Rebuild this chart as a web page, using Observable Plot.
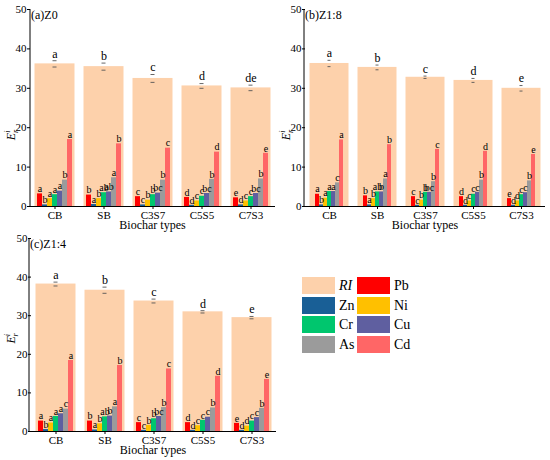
<!DOCTYPE html>
<html><head><meta charset="utf-8">
<script src="https://cdn.jsdelivr.net/npm/d3@7"></script>
<script src="https://cdn.jsdelivr.net/npm/@observablehq/plot@0.6"></script>
<style>
body{margin:0;background:#fff;font-family:"Liberation Serif","DejaVu Serif",serif;color:#000;}
#wrap{position:relative;width:550px;height:460px;overflow:hidden;}
.panel{position:absolute;}
.panel svg, .panel svg text{font-family:"Liberation Serif","DejaVu Serif",serif !important;}
.lg{position:absolute;font-size:14px;line-height:17px;}
.sw{position:absolute;width:33px;height:17px;}
</style></head><body><div id="wrap"></div>
<script>
const categories = ["CB","SB","C3S7","C5S5","C7S3"];
const metals = ["Pb","Zn","Ni","Cr","Cu","As","Cd"];
const metalColors = ["#FF0000","#195F96","#FFC000","#00C66E","#5F5FA0","#9B9B9B","#FF6666"];
const riColor = "#FDD1AB";
const yTicks = [0,10,20,30,40,50];

// (a) Z0
const riZ0 = [36.2,35.5,32.5,30.6,30.1];
const riErrZ0 = [0.8,0.9,1.0,0.6,0.7];
const riLetZ0 = ["a","b","c","d","de"];
const metZ0 = [
  [3.2,0.4,2.0,3.0,3.9,6.7,17.0],
  [2.9,0.5,2.0,3.5,3.7,7.3,15.9],
  [2.5,0.4,1.6,3.0,3.4,6.7,14.8],
  [2.3,0.3,1.4,2.6,3.3,6.9,13.8],
  [2.2,0.4,1.4,2.5,3.3,7.0,13.5]];
const metLetZ0 = [
  ["a","b","a","a","a","b","a"],
  ["b","a","b","ab","ab","a","b"],
  ["c","c","b","b","bc","b","c"],
  ["d","d","c","c","bc","b","d"],
  ["e","d","c","c","bc","b","e"]];

// (b) Z1:8
const riZ18 = [36.3,35.3,32.8,32.0,30.0];
const riErrZ18 = [0.8,0.6,0.3,0.5,0.7];
const riLetZ18 = ["a","b","c","d","e"];
const metZ18 = [
  [3.1,0.4,2.1,3.8,3.8,6.0,16.9],
  [2.7,0.4,2.0,3.7,3.7,7.0,15.7],
  [2.5,0.3,1.6,3.6,3.6,6.3,14.5],
  [2.5,0.3,1.4,3.1,3.6,6.7,14.0],
  [2.0,0.3,1.4,3.0,3.5,6.5,13.2]];
const metLetZ18 = [
  ["a","b","a","a","a","c","a"],
  ["b","a","b","ab","b","a","b"],
  ["c","c","b","b","bc","b","c"],
  ["d","d","c","c","c","b","d"],
  ["e","d","d","c","c","b","e"]];

// (c) Z1:4
const riZ14 = [38.2,36.6,33.8,31.0,29.5];
const riErrZ14 = [0.5,0.8,0.5,0.3,0.3];
const riLetZ14 = ["a","b","c","d","e"];
const metZ14 = [
  [2.7,0.5,2.2,3.9,4.6,5.8,18.4],
  [2.7,0.4,2.0,3.8,4.0,6.4,17.1],
  [2.3,0.3,1.6,3.3,3.9,6.2,16.2],
  [2.3,0.3,1.5,2.9,3.7,6.1,14.3],
  [2.1,0.3,1.4,2.7,3.6,6.0,13.5]];
const metLetZ14 = [
  ["a","b","a","a","a","c","a"],
  ["b","a","b","ab","b","a","b"],
  ["c","c","b","b","bc","b","c"],
  ["d","d","c","c","c","b","d"],
  ["e","d","d","c","c","b","e"]];

const wrap = document.getElementById("wrap");
const FONT = "Liberation Serif, DejaVu Serif, serif";

function panel(cfg) {
  const riData = categories.map((c, i) => ({cat: c, ri: cfg.ri[i], lo: cfg.ri[i] - cfg.err[i], hi: cfg.ri[i] + cfg.err[i], letter: cfg.riLet[i]}));
  const mData = categories.flatMap((c, i) => metals.map((m, j) => ({cat: c, metal: m, v: cfg.met[i][j], letter: cfg.metLet[i][j]})));
  const mt = 9, mb = cfg.mb, ml = cfg.ml, mr = 1;
  const svg = Plot.plot({
    width: cfg.width, height: cfg.height,
    marginTop: mt, marginBottom: mb, marginLeft: ml, marginRight: mr,
    style: {fontFamily: FONT, fontSize: "11px", background: "transparent", overflow: "visible", color: "#000"},
    fx: {domain: categories, padding: 0, label: null},
    x: {domain: metals, padding: 0, insetLeft: 7, insetRight: 7, axis: null},
    y: {domain: [0, 50], label: null},
    color: {domain: metals, range: metalColors},
    marks: [
      Plot.barY(riData, {fx: "cat", y: "ri", fill: riColor, insetLeft: 4.5, insetRight: 4.5}),
      Plot.ruleX(riData, {fx: "cat", y1: "lo", y2: "hi", stroke: "#555", strokeWidth: 0.9}),
      Plot.tickY(riData, {fx: "cat", y: "lo", stroke: "#555", strokeWidth: 0.9, insetLeft: 22.5, insetRight: 22.5}),
      Plot.tickY(riData, {fx: "cat", y: "hi", stroke: "#555", strokeWidth: 0.9, insetLeft: 22.5, insetRight: 22.5}),
      Plot.text(riData, {fx: "cat", y: "hi", text: "letter", dy: -7, fontSize: 12}),
      Plot.barY(mData, {fx: "cat", x: "metal", y: "v", fill: "metal"}),
      Plot.text(mData, {fx: "cat", x: "metal", y: "v", text: "letter", dy: -5, fontSize: 10}),
      Plot.ruleY([0], {stroke: "#000"}),
      Plot.axisY({ticks: yTicks, tickSize: 3, tickPadding: 1, tickFormat: d => d, label: null, fontSize: 11}),
      Plot.axisFx({anchor: "bottom", tickSize: 3, tickPadding: 2, label: null, fontSize: 11})
    ]
  });
  const s = d3.select(svg);
  const y = svg.scale("y");
  const y0 = y.apply(0), y50 = y.apply(50);
  s.append("line").attr("x1", ml).attr("x2", ml).attr("y1", y50).attr("y2", y0).attr("stroke", "#000");
  s.append("text").attr("x", ml + 1).attr("y", y50 + 10).attr("text-anchor", "start").attr("font-size", 12).attr("fill", "#000").text(cfg.title);
  s.append("text").attr("x", (ml + cfg.width - mr) / 2).attr("y", y0 + 23).attr("text-anchor", "middle").attr("font-size", 12).attr("fill", "#000").text("Biochar types");
  const lab = s.append("text").attr("transform", `translate(15,${y.apply(cfg.labelAt)}) rotate(-90)`).attr("text-anchor", "middle").attr("font-size", 12).attr("fill", "#000");
  lab.append("tspan").attr("font-style", "italic").text("E");
  lab.append("tspan").attr("font-style", "italic").attr("font-size", 8).attr("dy", -5).text("i");
  lab.append("tspan").attr("font-style", "italic").attr("font-size", 8).attr("dx", -2.5).attr("dy", 8).text("r");
  const div = document.createElement("div");
  div.className = "panel";
  div.style.left = cfg.left + "px";
  div.style.top = cfg.top + "px";
  div.appendChild(svg);
  wrap.appendChild(div);
}

panel({ri: riZ0, err: riErrZ0, riLet: riLetZ0, met: metZ0, metLet: metLetZ0, title: "(a)Z0",
  left: 0, top: 0, width: 276, height: 236, ml: 30, mb: 30, labelAt: 18});
panel({ri: riZ18, err: riErrZ18, riLet: riLetZ18, met: metZ18, metLet: metLetZ18, title: "(b)Z1:8",
  left: 275, top: 0, width: 272, height: 236, ml: 29, mb: 30, labelAt: 18});
panel({ri: riZ14, err: riErrZ14, riLet: riLetZ14, met: metZ14, metLet: metLetZ14, title: "(c)Z1:4",
  left: 0, top: 229, width: 278, height: 231, ml: 29, mb: 29, labelAt: 24});

// legend
const legendNames = ["RI", ...metals];
const legendColors = [riColor, ...metalColors];
legendNames.forEach((n, k) => {
  const col = k % 2, row = Math.floor(k / 2);
  const sw = document.createElement("div");
  sw.className = "sw";
  sw.style.left = (302 + col * 55) + "px";
  sw.style.top = (277 + row * 19.5) + "px";
  sw.style.background = legendColors[k];
  wrap.appendChild(sw);
  const t = document.createElement("div");
  t.className = "lg";
  t.style.left = (339 + col * 55) + "px";
  t.style.top = (277 + row * 19.5) + "px";
  if (n === "RI") t.style.fontStyle = "italic";
  t.textContent = n;
  wrap.appendChild(t);
});
</script>
</body></html>
